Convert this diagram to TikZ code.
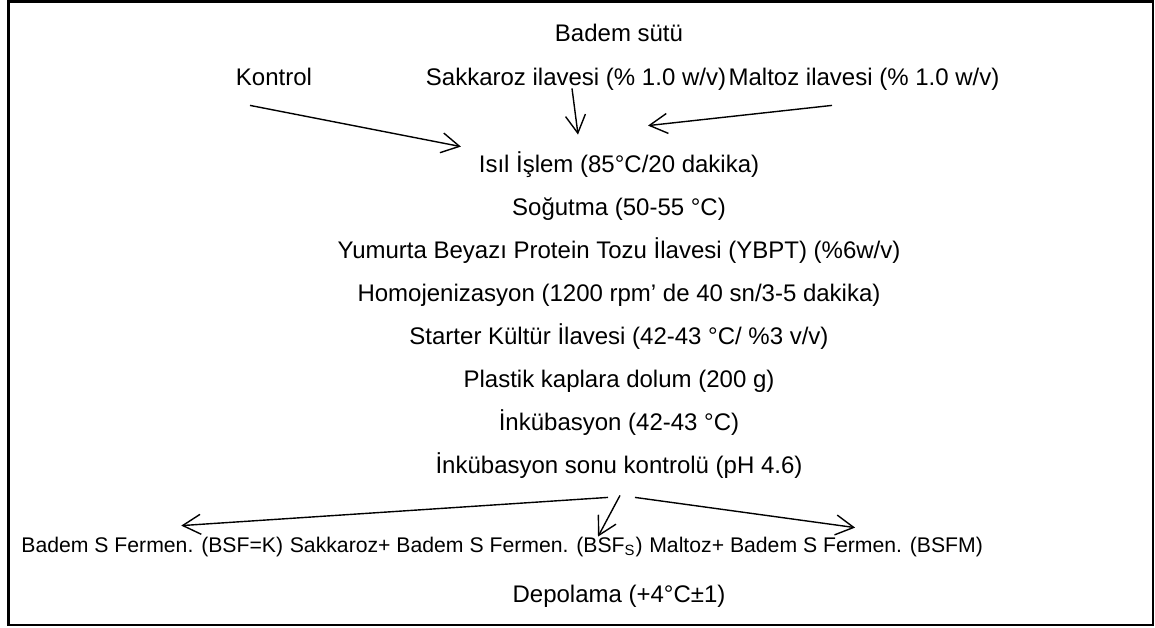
\documentclass[tikz,border=0pt]{standalone}
\usepackage{fontspec}
\setmainfont{Liberation Sans}
\usetikzlibrary{positioning}
\usetikzlibrary{arrows.meta}

\tikzset{
  stepnode/.style={inner sep=0pt, anchor=base, text height=9pt, text depth=2.5pt, font=\fontsize{12}{14}\selectfont},
  rownode/.style={inner sep=0pt, text height=8pt, text depth=2.2pt, font=\fontsize{10.6}{13}\selectfont},
  flowarrow/.style={line width=0.7pt, -{Straight Barb[length=9pt,width=10pt]}}
}

\begin{document}
\begin{tikzpicture}[x=0.5pt, y=-0.5pt]
\useasboundingbox (0,0) rectangle (1155,627);

% Frame
  \draw[line width=1.35pt] (8.7,1.3) rectangle (1153,625);

% Inputs
  \node[stepnode] (badem) at (619,41.5) {Badem sütü};
  \node[stepnode] (kontrol) at (274,85) {Kontrol};
  \node[stepnode] (sakkaroz) at (576,85) {Sakkaroz ilavesi (\% 1.0 w/v)};
  \node[stepnode] (maltoz) at (864,85) {Maltoz ilavesi (\% 1.0 w/v)};

% Process steps
  \node[stepnode] (isil) at (619,172) {Isıl İşlem (85°C/20 dakika)};
  \node[stepnode] (sogutma) at (619,215) {Soğutma (50-55 °C)};
  \node[stepnode] (ybpt) at (619,258) {Yumurta Beyazı Protein Tozu İlavesi (YBPT) (\%6w/v)};
  \node[stepnode] (homojen) at (619,301) {Homojenizasyon (1200 rpm’ de 40 sn/3-5 dakika)};
  \node[stepnode] (starter) at (619,344) {Starter Kültür İlavesi (42-43 °C/ \%3 v/v)};
  \node[stepnode] (dolum) at (619,387) {Plastik kaplara dolum (200 g)};
  \node[stepnode] (inkub) at (619,430) {İnkübasyon (42-43 °C)};
  \node[stepnode] (sonu) at (619,473) {İnkübasyon sonu kontrolü (pH 4.6)};

% Products
  \node[rownode, anchor=base west] (bsfk) at (21,552) {Badem S Fermen. (BSF=K)};
  \node[rownode, base right=2.95pt of bsfk] (bsfs) {Sakkaroz+ Badem S Fermen. (BSF\textsubscript{S})};
  \node[rownode, base right=2.95pt of bsfs] (bsfm) {Maltoz+ Badem S Fermen. (BSFM)};

  \node[stepnode] (depolama) at (619,602) {Depolama (+4°C±1)};

% Arrows
  \draw[flowarrow] ([shift={(-24,15)}]kontrol.south) -- ([shift={(-17.5,-7)}]isil.north west);
  \draw[flowarrow] ([shift={(-4,-2)}]sakkaroz.south) -- ([shift={(-41,-19)}]isil.north);
  \draw[flowarrow] ([shift={(-32,15)}]maltoz.south) -- ([shift={(29,-28)}]isil.north);
  \draw[flowarrow] ([shift={(-11,19)}]sonu.south) -- ([shift={(29,-10)}]bsfk.north);
  \draw[flowarrow] ([shift={(1,17)}]sonu.south) -- ([shift={(-45,1)}]bsfs.north east);
  \draw[flowarrow] ([shift={(16,19)}]sonu.south) -- ([shift={(39,-8)}]bsfm.north);

\end{tikzpicture}
\end{document}
